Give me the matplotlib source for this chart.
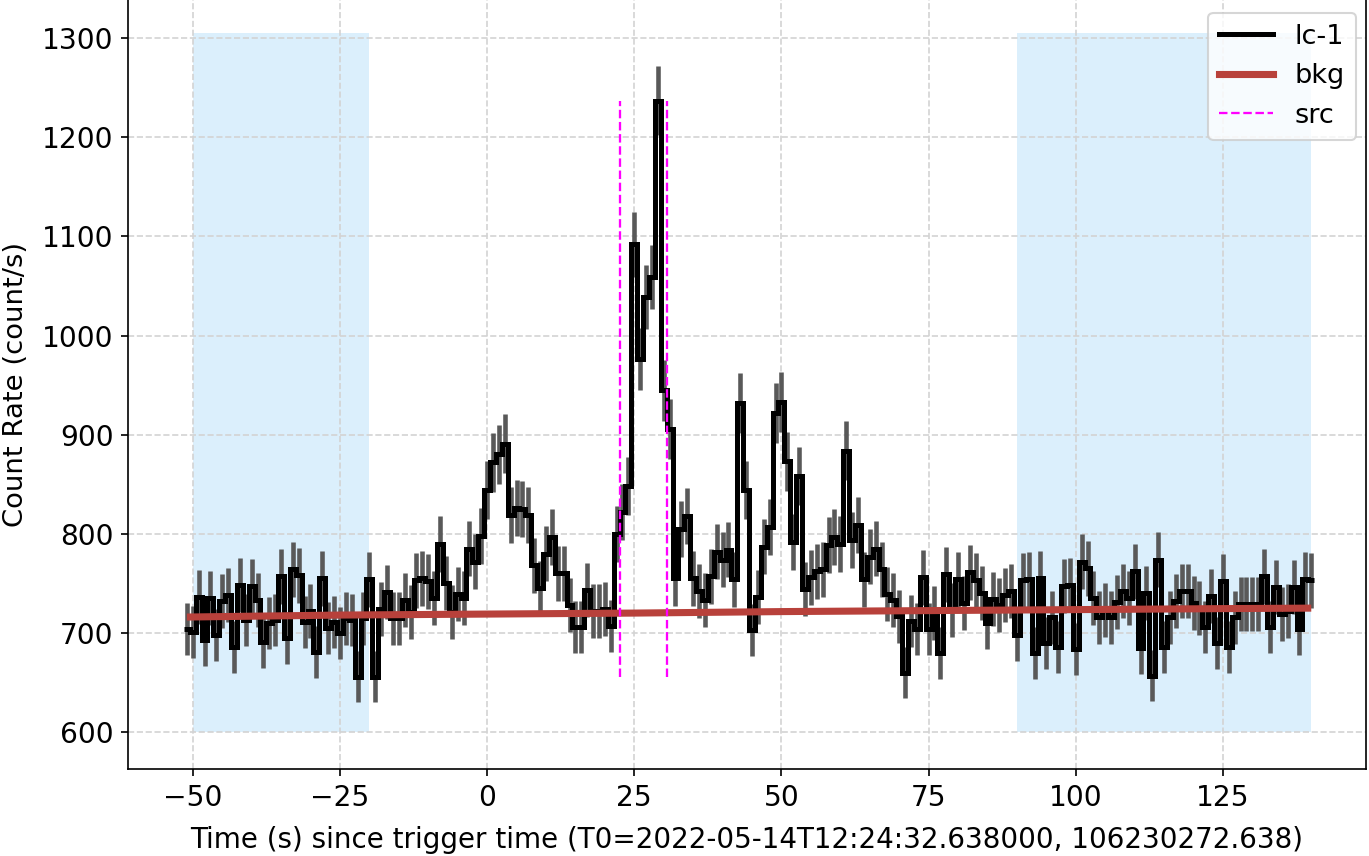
import numpy as np
import matplotlib
matplotlib.use("Agg")
import matplotlib.pyplot as plt
from matplotlib.lines import Line2D

# ---- data ----
t_start, t_end = -51, 140          # bin centres (1 s bins)
rate = [
    704, 701, 736, 693, 735, 698, 732, 738, 686, 748,   # -51..-42
    713, 747, 733, 691, 710, 713, 757, 695, 764, 758,   # -41..-32
    711, 722, 681, 755, 705, 711, 700, 715, 713, 656,   # -31..-22
    715, 754, 656, 724, 741, 715, 715, 733, 721, 753,   # -21..-12
    755, 752, 735, 790, 750, 721, 739, 735, 785, 772,   # -11..-2
    798,                                                 # -1
    844, 872, 880, 891, 819, 826, 825, 819, 768, 745,   # 0..9
    780, 797, 760, 760, 728, 706, 706, 743, 722, 722,   # 10..19
    724, 707, 800, 822, 848, 1092, 976, 1039, 1059, 1237,  # 20..29
    945, 906, 755, 805, 818, 755, 742, 733, 757, 782,   # 30..39
    774, 784, 754, 932, 844, 703, 736, 787, 807, 922,   # 40..49
    933, 873, 792, 858, 744, 756, 762, 764, 789, 797,   # 50..59
    790, 884, 794, 809, 754, 777, 785, 764, 739, 733,   # 60..69
    717, 660, 712, 704, 756, 704, 720, 680, 759, 723,   # 70..79
    754, 730, 761, 753, 740, 710, 734, 728, 738, 742,   # 80..89
    698, 753, 754, 680, 755, 690, 716, 686, 747, 748,   # 90..99
    684, 772, 765, 735, 716, 723, 716, 731, 742, 735,   # 100..109
    762, 685, 740, 657, 774, 686, 716, 732, 742, 742,   # 110..119
    730, 725, 706, 737, 690, 752, 686, 716, 729, 729,   # 120..129
    729, 729, 757, 706, 746, 719, 722, 746, 704, 754,   # 130..139
    753,                                                 # 140
]
bkg_t = [-51, -25, 0, 25, 50, 75, 100, 125, 140]
bkg_rate = [716, 718, 719, 720, 721.5, 722.5, 723.5, 724.5, 725]
bkg_intervals = [(-50, -20), (90, 140)]
span_y = (600, 1305)
src_interval = (22.6, 30.6)
xlabel = "Time (s) since trigger time (T0=2022-05-14T12:24:32.638000, 106230272.638)"
ylabel = "Count Rate (count/s)"

rate = np.array(rate, dtype=float)
t = np.arange(t_start, t_end + 1)
assert len(t) == len(rate)
err = np.sqrt(rate)          # Poisson errors for 1 s bins
edges = np.append(t - 0.5, t[-1] + 0.5)

plt.rcParams['font.family'] = ['DejaVu Sans']
plt.rcParams['font.size'] = 13

fig = plt.figure(figsize=(1369 / 150, 856 / 150), dpi=150)
ax = fig.add_axes([128 / 1369, 87 / 856, (1366 - 128) / 1369, 769 / 856])
ax.spines['top'].set_visible(False)

for a, b in bkg_intervals:
    ax.fill_between([a, b], span_y[0], span_y[1], color='#dbeffc', lw=0, zorder=0.8)

ax.errorbar(t, rate, yerr=err, fmt='none', ecolor='#595959', elinewidth=2.2, zorder=1.6)
ax.stairs(rate, edges, color='black', lw=2.4, zorder=2, baseline=None)
ax.plot(bkg_t, bkg_rate, color='#b8413b', lw=3.4, zorder=3, solid_capstyle='butt')
ax.vlines(src_interval, rate.min(), rate.max(), colors='magenta', linestyles='--',
          lw=1.1, zorder=4)

ax.set_xlim(-61.0, 149.3)
ax.set_ylim(562.7, 1338.5)
ax.set_xticks([-50, -25, 0, 25, 50, 75, 100, 125])
ax.set_yticks(np.arange(600, 1301, 100))
ax.tick_params(labelsize=13.5)
ax.grid(True, ls='--', color='#d3d3d3', lw=0.8)
ax.set_xlabel(xlabel, labelpad=7, fontsize=13.35)
ax.set_ylabel(ylabel, labelpad=6, fontsize=13.2)

handles = [Line2D([], [], color='black', lw=2.4),
           Line2D([], [], color='#b8413b', lw=3.4),
           Line2D([], [], color='magenta', lw=1.1, ls='--')]
ax.legend(handles, ['lc-1', 'bkg', 'src'], loc='upper right', fontsize=13,
          bbox_to_anchor=(1.0 - 10 / 1238, 1.0 - 13 / 769), borderaxespad=0)

fig.savefig('out.png', dpi=150)
